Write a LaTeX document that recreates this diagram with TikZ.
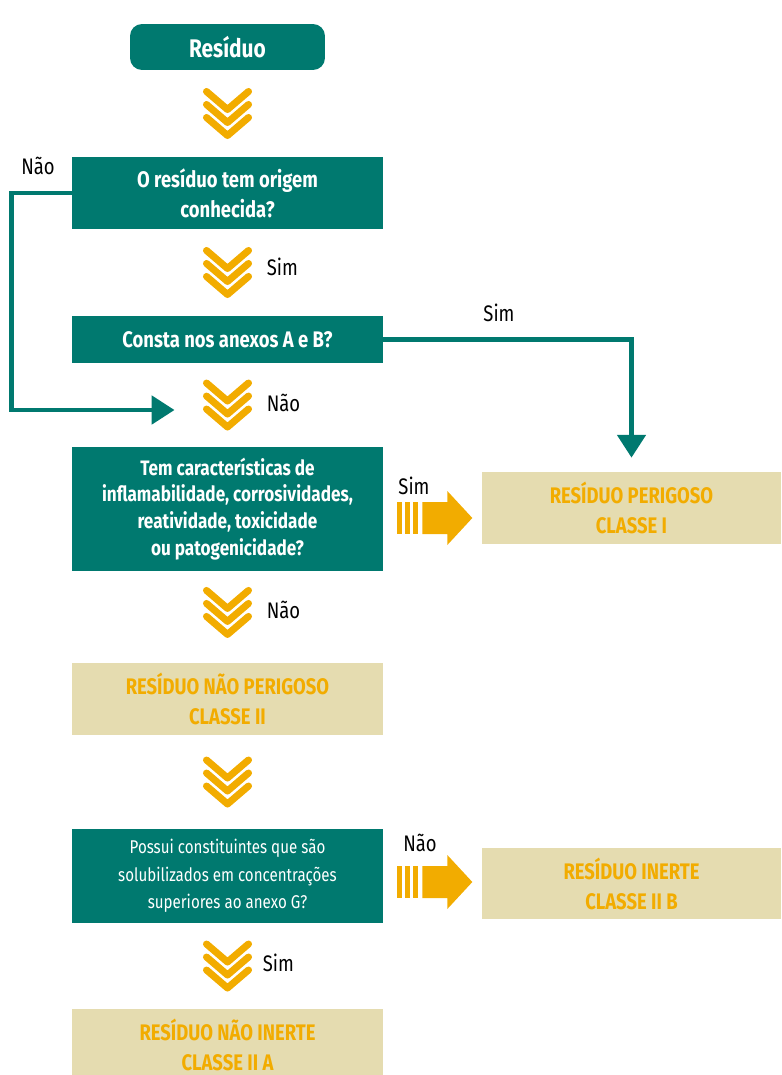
\documentclass[tikz,border=0pt]{standalone}
\usepackage{fontspec}
\setmainfont[FakeStretch=0.82]{Fira Sans}
\usetikzlibrary{arrows.meta}
\usetikzlibrary{positioning}

\definecolor{tealbox}{RGB}{0,121,111}
\definecolor{amber}{RGB}{242,172,0}
\definecolor{sand}{RGB}{229,220,176}

\tikzset{
  startbox/.style={fill=tealbox,text=white,rounded corners=0.24cm,minimum width=3.9cm,minimum height=0.92cm,inner sep=0pt,font=\bfseries\fontsize{14.5}{18}\selectfont},
  question/.style={fill=tealbox,text=white,align=center,minimum width=6.22cm,inner sep=0pt,font=\bfseries\fontsize{12.8}{17}\selectfont},
  result/.style={fill=sand,text=amber,align=center,inner sep=0pt,minimum height=1.44cm,font=\bfseries\fontsize{12.8}{17}\selectfont},
  lbl/.style={inner sep=0pt,font=\fontsize{12.8}{14}\selectfont},
  flow/.style={draw=tealbox,line width=2.6pt,-{Triangle[width=16pt,length=13pt]}},
  chevrons/.pic={
    \foreach \k in {0,1,2}
      \draw[amber,line width=4pt,line cap=round,line join=round] (-21,-22+13*\k) -- (0,-4+13*\k) -- (21,-22+13*\k);
  },
  pusharrow/.pic={
    \foreach \b in {0,8,16}
      \fill[amber] (\b,-16) rectangle ++(5,32);
    \fill[amber] (25,-16) -- (50,-16) -- (50,-27) -- (75,0) -- (50,27) -- (50,16) -- (25,16) -- cycle;
  }
}

\begin{document}
\begin{tikzpicture}[x=0.02cm,y=-0.02cm]
\clip (0,0) rectangle (781,1075);

% boxes
\node[startbox] (start) at (227.5,47) {Resíduo};
\node[question,minimum height=1.44cm] (q1) at (227.5,193) {O resíduo tem origem\\conhecida?};
\node[question,minimum height=0.94cm] (q2) at (227.5,339.5) {Consta nos anexos A e B?};
\node[question,minimum height=2.48cm,font=\bfseries\fontsize{11.9}{15.3}\selectfont] (q3) at (227.5,509) {Tem características de\\inflamabilidade, corrosividades,\\reatividade, toxicidade\\ou patogenicidade?};
\node[result,minimum width=5.98cm] (r1) at (631.5,508) {RESÍDUO PERIGOSO\\CLASSE I};
\node[result,minimum width=6.22cm] (r2) at (227.5,699) {RESÍDUO NÃO PERIGOSO\\CLASSE II};
\node[question,minimum height=1.88cm,font=\fontsize{10.5}{15.6}\selectfont] (q4) at (227.5,876) {Possui constituintes que são\\solubilizados em concentrações\\superiores ao anexo G?};
\node[result,minimum width=5.98cm,minimum height=1.42cm] (r3) at (631.5,883.5) {RESÍDUO INERTE\\CLASSE II B};
\node[result,minimum width=6.22cm] (r4) at (227.5,1045) {RESÍDUO NÃO INERTE\\CLASSE II A};

% chevrons between the boxes
\path (start.south) -- (q1.north) coordinate[pos=0.5] (c1);
\path (q1.south) -- (q2.north) coordinate[pos=0.5] (c2);
\path (q2.south) -- (q3.north) coordinate[pos=0.5] (c3);
\path (q3.south) -- (r2.north) coordinate[pos=0.45] (c4);
\path (r2.south) -- (q4.north) coordinate[pos=0.5] (c5);
\path (q4.south) -- (r4.north) coordinate[pos=0.5] (c6);
\foreach \c in {c1,c2,c3,c4,c5,c6}
  \pic at (\c) {chevrons};

\node[lbl,anchor=west] at ([shift={(39,-6)}]c2) {Sim};
\node[lbl,anchor=west] at ([shift={(39,-2)}]c3) {Não};
\node[lbl,anchor=west] at ([shift={(39,-3)}]c4) {Não};
\node[lbl,anchor=west] at ([shift={(35,-3)}]c6) {Sim};

% side branches
\draw[flow] (q1.west) -- ++(-60,0) |- ([shift={(-53,5)}]c3);
\node[lbl] at (38,166) {Não};
\draw[flow] (q2.east) -| ([shift={(0,-14)}]r1.north);
\node[lbl] at (499,313) {Sim};

\pic at ([shift={(14,9)}]q3.east) {pusharrow};
\node[lbl] at (414,486) {Sim};
\pic at ([shift={(14,6)}]q4.east) {pusharrow};
\node[lbl] at (420,843) {Não};
\end{tikzpicture}
\end{document}
